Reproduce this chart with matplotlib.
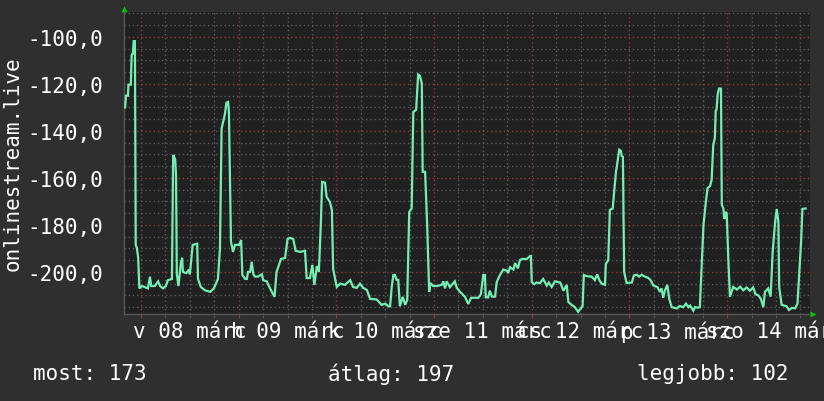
import matplotlib
matplotlib.use("Agg")
import matplotlib.pyplot as plt
import matplotlib.transforms as mtransforms
from matplotlib.ticker import MultipleLocator, FixedLocator, NullFormatter

# hours since 08 march 00:00, and the measured value
hours = [
    -3.9, -3.7, -3.2, -3.1, -2.5, -2.3, -2.0, -1.8, -1.5, -1.3, -1.0, -0.7, -0.4,
    0.2, 1.0, 1.7, 2.2, 2.5, 3.4, 4.2, 4.7, 5.4, 6.1, 6.6, 7.6, 7.9, 8.4, 8.6, 8.8,
    9.2, 9.8, 10.1, 10.3, 11.1, 11.8, 12.0, 12.7, 13.8, 14.0, 14.7, 15.7, 17.0, 17.9,
    18.9, 19.4, 19.8, 20.6, 21.0, 21.4, 21.6, 22.1, 22.6, 23.1,
    24.1, 24.6, 24.9, 25.6, 26.0, 26.3, 26.8, 27.2, 27.6, 28.0, 28.7, 29.7, 30.0,
    30.9, 31.7, 32.8, 33.3, 34.4, 35.4, 36.0, 36.6, 37.4, 38.0, 39.1, 40.3, 40.7,
    41.5, 42.1, 42.6, 43.2, 43.7, 44.2, 44.5, 45.2, 45.6, 46.4, 46.9, 47.2, 48.1,
    48.9, 50.1, 51.4, 52.1,
    53.0, 53.8, 54.6, 55.5, 56.3, 57.9, 59.1, 60.0, 60.8, 61.2, 61.6, 62.0, 62.4,
    62.8, 63.2, 63.6, 64.3, 64.9, 65.4, 65.9, 66.5, 66.9, 67.6, 67.7, 68.1, 68.5,
    69.0, 69.2, 69.8, 70.3, 70.8, 71.1, 71.8, 72.7, 73.9, 74.3, 74.7, 75.1, 75.9,
    77.1, 77.6, 78.4, 79.6, 80.4,
    81.1, 82.1, 82.9, 83.5, 84.1, 84.5, 84.7, 85.3, 85.7, 86.2, 87.0, 87.4, 88.2,
    89.0, 89.9, 90.2, 90.7, 91.5, 91.9, 92.6, 93.1, 93.6, 94.8, 95.6, 95.8, 96.0,
    96.6, 97.2, 98.0, 98.8, 99.7, 100.2, 100.9, 101.7, 103.0, 103.8, 104.6, 105.0,
    105.8, 106.6, 107.4, 108.3, 108.5, 108.8,
    109.5, 110.7, 111.0, 111.5, 112.1, 112.6, 113.2, 114.0, 114.2, 114.8, 115.2,
    115.9, 116.2, 116.7, 117.0, 117.5, 117.9, 118.1, 118.4, 118.7, 119.3, 120.6,
    121.1, 121.8, 122.4, 123.0, 123.8, 124.6, 125.2, 125.9, 126.9, 127.5, 127.9,
    128.3, 128.7, 129.3, 129.8, 130.4, 131.6, 132.4, 133.2, 133.9, 134.5, 134.9,
    135.7, 136.1, 136.9,
    137.3, 137.8, 138.2, 138.7, 139.2, 139.8, 140.2, 140.6, 141.0, 141.2, 141.4,
    141.7, 142.0, 142.5, 142.7, 143.1, 143.3, 143.7, 143.9, 144.3, 144.7, 145.5,
    146.4, 147.2, 148.0, 148.8, 149.6, 150.4, 151.0, 151.7, 152.3, 152.9, 153.3,
    154.1, 154.7, 155.2, 155.8, 156.2, 156.6, 156.8, 157.4, 158.6, 159.2, 159.9,
    160.7, 161.3, 161.7, 162.2, 162.5, 163.3,
]
values = [
    -130, -125, -125, -120.3, -120.3, -107.7, -107, -101.8, -101.8, -188.5, -190, -194, -207,
    -206, -206.5, -207, -202, -206, -206, -204, -206, -207, -206, -203.5, -203, -150.2, -152, -158.7, -201,
    -206, -196, -194, -200, -200.5, -199, -201, -188.5, -188, -203, -206.4, -207.8, -208.5, -207,
    -203, -190, -139, -133, -128, -127.7, -132, -187, -191.5, -188.5,
    -188.5, -186.4, -201.3, -203, -203, -200, -200, -195.7, -201, -202, -202, -201, -203.5,
    -204, -207, -210.6, -200, -194.5, -194, -186, -185.5, -186, -191, -191.5, -191, -202.6,
    -202.6, -197, -205.5, -197.5, -200, -178.7, -161.7, -162, -168, -170.2, -173.6, -198.7, -206.4,
    -205, -205.5, -203.5, -206.4,
    -206.8, -205, -206.8, -207.7, -211.5, -211.7, -214, -213.5, -214.6, -214.6, -206.4, -201.3, -201.3,
    -203.4, -203.4, -214.6, -210.6, -214, -212, -174.5, -173, -132, -131, -127.7, -116, -116.5,
    -119.9, -157.4, -157.4, -179.6, -208.5, -204.7, -206, -206, -205.5, -204, -207, -204, -206.5,
    -204, -206.8, -208.5, -210.6, -213.6,
    -211, -211, -211, -209.5, -201.3, -201.3, -210.8, -210.8, -208, -210.5, -210.5, -204.3, -201.3,
    -199, -199.5, -200.5, -198, -199, -196.2, -198.5, -195, -194.5, -194.5, -193.2, -193.2, -204.3,
    -205.2, -204.5, -204.8, -203, -205.8, -204.5, -206.4, -204, -204.5, -208, -205.5, -212.8,
    -214, -215, -217, -215, -214.5, -201.3,
    -201.8, -202, -202.5, -203.5, -201, -203.5, -205, -205.5, -196.6, -195, -173.6,
    -173, -166.8, -157.4, -154, -148, -148.5, -150.6, -151, -200, -204.7, -204.5,
    -201.5, -201.2, -202, -201.2, -202, -202.5, -203.5, -205.8, -206.5, -208.5, -207,
    -211, -208, -205.5, -211.5, -215, -215.5, -214.5, -215, -213.5, -215, -214.3,
    -216.5, -215, -215.2,
    -215, -195.7, -180, -171.5, -164.3, -163.5, -160.9, -146, -143, -131.5, -131,
    -124.3, -122, -122, -171.5, -173, -177.5, -174.5, -175, -194.5, -210.6, -206.4,
    -207.5, -206.3, -207.8, -206.6, -208, -206.6, -209.5, -210, -211.5, -215, -208.5,
    -207, -210.5, -191.5, -178.7, -173.2, -178.7, -206.4, -214, -214.6, -216.2, -215.3,
    -215.5, -213.5, -201.3, -186.4, -173.2, -173,
]

day_labels = ["v 08 márc", "h 09 márc", "k 10 márc", "sze 11 márc",
              "cs 12 márc", "p 13 márc", "szo 14 márc"]
y_ticks = [-100, -120, -140, -160, -180, -200]
ylabel = "onlinestream.live"
stats = [("most", 173), ("átlag", 197), ("legjobb", 102)]

BG = "#2f2f2f"
CANVAS = "#212121"
FG = "#ffffff"
LINE = "#74eeb4"
MAJOR = "#8a3c3c"
MINOR = "#5a5a5a"

plt.rcParams["font.family"] = ["DejaVu Sans Mono", "DejaVu Sans"]
plt.rcParams["font.size"] = 15

fig = plt.figure(figsize=(8.24, 4.02), dpi=100, facecolor=BG)
ax = fig.add_axes([124 / 824, 87 / 402, 686 / 824, 302 / 402])
ax.set_facecolor(CANVAS)

ax.plot(hours, values, color=LINE, lw=1.6, solid_joinstyle="miter", zorder=3)

ax.set_xlim(-4.18, 164.37)
ax.set_ylim(-217.9, -89.4)

# x grid: midnights red, every 6 hours gray
ax.xaxis.set_major_locator(FixedLocator([24 * i for i in range(len(day_labels))]))
ax.xaxis.set_minor_locator(MultipleLocator(6))
ax.xaxis.set_major_formatter(NullFormatter())
ax.yaxis.set_major_locator(FixedLocator(y_ticks))
ax.yaxis.set_minor_locator(MultipleLocator(5))
ax.set_yticklabels([f"{v:.1f}".replace(".", ",") for v in y_ticks], color=FG)

ax.set_axisbelow(True)
ax.grid(which="major", color=MAJOR, ls=(0, (1, 2)), lw=1)
ax.grid(which="minor", color=MINOR, ls=(0, (1, 2)), lw=1)

ax.tick_params(axis="x", which="major", length=3, color=MAJOR)
ax.tick_params(axis="x", which="minor", length=3, color=MINOR)
ax.tick_params(axis="y", which="both", length=0, pad=15)

for side in ["top", "right"]:
    ax.spines[side].set_visible(False)
for side in ["bottom", "left"]:
    ax.spines[side].set_color("#555555")
    ax.spines[side].set_linewidth(1)

# day labels centred at noon, they overlap like in rrdtool
trans = mtransforms.blended_transform_factory(ax.transData, fig.transFigure)
for i, lab in enumerate(day_labels):
    ax.text(24 * i + 12, 1 - 332 / 402, lab, transform=trans, ha="center",
            va="center", color=FG, clip_on=False)

# green arrows at the axis ends
ax.plot([0], [1.01], marker="^", ms=5, color="#00cc00", transform=ax.transAxes,
        clip_on=False, mec="none")
ax.plot([1.004], [0], marker=">", ms=5, color="#00cc00", transform=ax.transAxes,
        clip_on=False, mec="none")

fig.text(13 / 824, 1 - 164 / 402, ylabel, rotation=90, ha="center", va="center",
         color=FG)

stat_x = [33, 328, 637]
for (name, val), px in zip(stats, stat_x):
    fig.text(px / 824, 1 - 374 / 402, f"{name}: {val}", ha="left", va="center",
             color=FG)

fig.savefig("out.png", dpi=100, facecolor=BG)
